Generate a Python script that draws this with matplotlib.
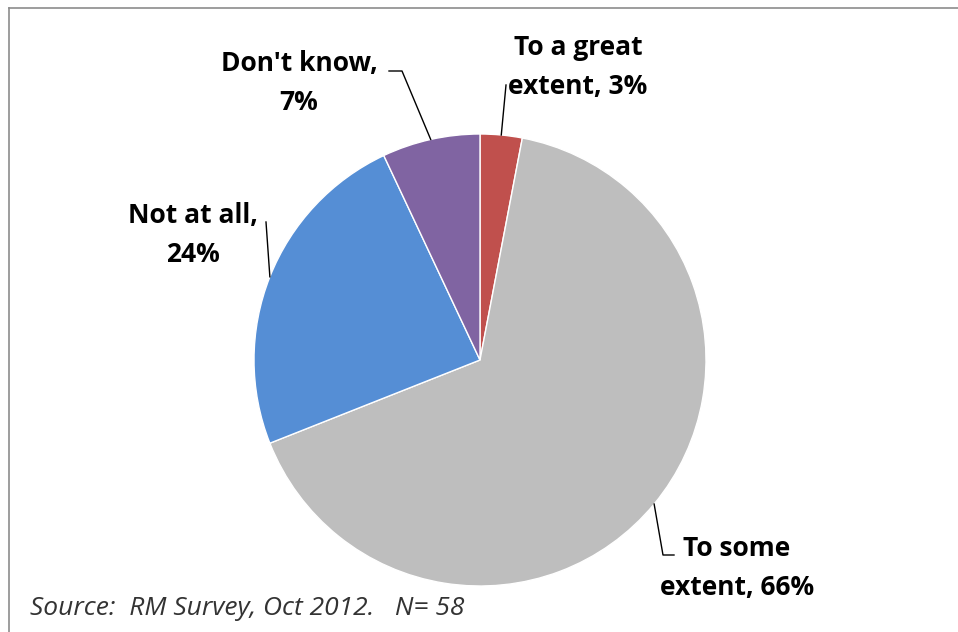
import numpy as np
import matplotlib
matplotlib.use("Agg")
import matplotlib.pyplot as plt
from matplotlib.lines import Line2D

categories = ["To a great\nextent", "To some\nextent", "Not at all", "Don't know"]
shares = [3, 66, 24, 7]
colors = ["#C0504D", "#BEBEBE", "#558ED5", "#8064A2"]
source_note = "Source:  RM Survey, Oct 2012.   N= 58"

W, H = 958, 632
fig = plt.figure(figsize=(W / 100, H / 100), dpi=100)
ax = fig.add_axes([0, 0, 1, 1])

cx, cy, r = 480, H - 360, 226
wedges, _ = ax.pie(shares, colors=colors, startangle=90, counterclock=False,
                   center=(cx, cy), radius=r, frame=True,
                   wedgeprops=dict(edgecolor="white", linewidth=1.0))
ax.set_xlim(0, W)
ax.set_ylim(0, H)
ax.set_aspect("equal")
ax.axis("off")

# label text (last-line baseline, pixel coords from top) and leader-line elbows
label_font = dict(family=["Open Sans", "DejaVu Sans"], fontweight="bold", fontsize=19,
                  color="black", ha="center", va="baseline", linespacing=1.55)
layout = [
    dict(text=f"To a great\nextent, {shares[0]}%", xy=(578, 94), path=[(506, 85)]),
    dict(text=f"To some\nextent, {shares[1]}%", xy=(737, 595), path=[(663, 555), (674, 555)]),
    dict(text=f"Not at all,\n{shares[2]}%", xy=(193, 262), path=[(266, 222)]),
    dict(text=f"Don't know,\n{shares[3]}%", xy=(299, 110), path=[(402, 71), (389, 71)]),
]

for w, lab in zip(wedges, layout):
    mid = np.deg2rad((w.theta1 + w.theta2) / 2)
    ex, ey = cx + r * np.cos(mid), cy + r * np.sin(mid)
    xs = [ex] + [p[0] for p in lab["path"]]
    ys = [ey] + [H - p[1] for p in lab["path"]]
    ax.add_line(Line2D(xs, ys, color="black", linewidth=1.0))
    ax.text(lab["xy"][0], H - lab["xy"][1], lab["text"], **label_font)

ax.text(30, H - 615, source_note, family=["Open Sans", "DejaVu Sans"], style="italic",
        fontsize=19, color="#333333", ha="left", va="baseline")

# chart frame (top and left edges)
ax.add_line(Line2D([9, W], [H - 8, H - 8], color="#8C8C8C", linewidth=1.2))
ax.add_line(Line2D([9, 9], [H - 8, 0], color="#8C8C8C", linewidth=1.2))

fig.savefig("out.png", dpi=100, facecolor="white")
